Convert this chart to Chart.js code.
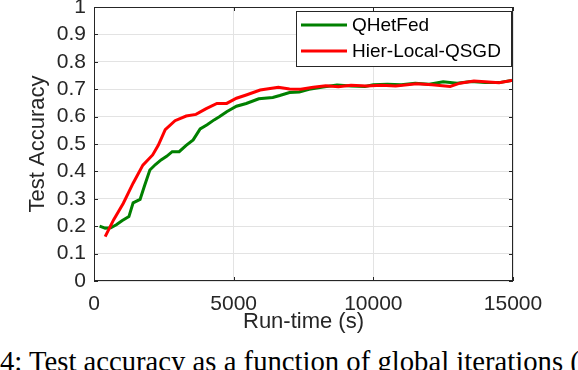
<!DOCTYPE html>
<html>
<head>
<meta charset="utf-8">
<script src="https://cdn.jsdelivr.net/npm/chart.js@4.4.1/dist/chart.umd.min.js"></script>
<style>
  html, body { margin: 0; padding: 0; background: #fff; overflow: hidden; }
  #wrap { position: relative; width: 578px; height: 370px; overflow: hidden; }
  #chartBox { position: absolute; left: 0; top: 0; width: 578px; height: 340px; }
  #caption {
    position: absolute; left: 0; top: 347px;
    font-family: "Liberation Serif", "Times New Roman", serif;
    font-size: 28.7px; line-height: 28px; white-space: nowrap; color: #000;
  }
</style>
</head>
<body>
<div id="wrap">
  <div id="chartBox"><canvas id="accChart"></canvas></div>
  <div id="caption">4: Test accuracy as a function of global iterations (</div>
</div>
<script>
// run-time (s) and test accuracy
const qhetfedTime = [200, 400, 600, 800, 1000, 1250, 1400, 1650, 1800, 2000, 2200, 2400, 2600, 2800, 3050, 3300, 3550, 3800, 4050, 4300, 4500, 4750, 5100, 5450, 5900, 6400, 6650, 7000, 7350, 7700, 8200, 8700, 9200, 9700, 10000, 10500, 11000, 11500, 12000, 12500, 13000, 13500, 14000, 14500, 15000];
const qhetfedAcc = [0.200, 0.193, 0.194, 0.205, 0.220, 0.235, 0.285, 0.298, 0.345, 0.405, 0.425, 0.442, 0.455, 0.472, 0.472, 0.495, 0.515, 0.555, 0.570, 0.588, 0.600, 0.618, 0.638, 0.648, 0.665, 0.670, 0.677, 0.688, 0.690, 0.700, 0.708, 0.715, 0.712, 0.710, 0.716, 0.718, 0.716, 0.722, 0.718, 0.727, 0.722, 0.728, 0.724, 0.724, 0.733];

const hierTime = [400, 700, 1050, 1400, 1750, 2100, 2300, 2550, 2900, 3300, 3650, 4000, 4400, 4750, 5100, 5450, 5950, 6600, 7000, 7400, 7850, 8300, 8750, 9200, 9750, 10300, 10800, 11550, 12100, 12750, 13100, 13600, 14000, 14500, 15000];
const hierAcc = [0.162, 0.223, 0.284, 0.357, 0.423, 0.460, 0.495, 0.552, 0.585, 0.602, 0.608, 0.628, 0.648, 0.648, 0.667, 0.679, 0.697, 0.707, 0.701, 0.700, 0.707, 0.713, 0.709, 0.714, 0.712, 0.714, 0.712, 0.720, 0.716, 0.710, 0.722, 0.730, 0.727, 0.724, 0.733];

const seriesNames = ["QHetFed", "Hier-Local-QSGD"];
const xTicks = [0, 5000, 10000, 15000];
const yTicks = [0, 0.1, 0.2, 0.3, 0.4, 0.5, 0.6, 0.7, 0.8, 0.9, 1];

const textColor = "#262626";
const sansFont = "'Liberation Sans', Arial, sans-serif";

const toPoints = (xs, ys) => xs.map((x, i) => ({ x: x, y: ys[i] }));

// MATLAB style box, inward ticks and legend
const matlabFrame = {
  id: "matlabFrame",
  afterDatasetsDraw(chart) {
    const { ctx, chartArea: a, scales } = chart;
    ctx.save();
    ctx.strokeStyle = textColor;
    ctx.lineWidth = 1;
    ctx.strokeRect(a.left + 0.5, a.top + 0.5, a.right - a.left - 1, a.bottom - a.top - 1);

    const tk = 4;
    ctx.beginPath();
    yTicks.forEach(v => {
      const py = Math.round(scales.y.getPixelForValue(v)) + 0.5;
      ctx.moveTo(a.left, py); ctx.lineTo(a.left + tk, py);
      ctx.moveTo(a.right, py); ctx.lineTo(a.right - tk, py);
    });
    xTicks.forEach(v => {
      const px = Math.round(scales.x.getPixelForValue(v)) + 0.5;
      ctx.moveTo(px, a.bottom); ctx.lineTo(px, a.bottom - tk);
      ctx.moveTo(px, a.top); ctx.lineTo(px, a.top + tk);
    });
    ctx.stroke();

    // legend box
    const lx = 296, ly = 11, lw = 215, lh = 55;
    ctx.fillStyle = "#fff";
    ctx.fillRect(lx, ly, lw, lh);
    ctx.strokeStyle = textColor;
    ctx.strokeRect(lx + 0.5, ly + 0.5, lw, lh);
    ctx.font = "19px " + sansFont;
    ctx.textBaseline = "middle";
    ctx.textAlign = "left";
    chart.data.datasets.forEach((ds, i) => {
      const rowY = 25 + i * 26;
      ctx.strokeStyle = ds.borderColor;
      ctx.lineWidth = 3;
      ctx.beginPath();
      ctx.moveTo(301, rowY); ctx.lineTo(347, rowY);
      ctx.stroke();
      ctx.fillStyle = "#000";
      ctx.fillText(ds.label, 352, rowY + 1);
    });
    ctx.restore();
  }
};

const ctx = document.getElementById("accChart").getContext("2d");
new Chart(ctx, {
  type: "line",
  data: {
    datasets: [{
      label: seriesNames[0],
      data: toPoints(qhetfedTime, qhetfedAcc),
      borderColor: "#008000",
      borderWidth: 3,
      pointRadius: 0,
      tension: 0,
      order: 1
    }, {
      label: seriesNames[1],
      data: toPoints(hierTime, hierAcc),
      borderColor: "#ff0000",
      borderWidth: 3,
      pointRadius: 0,
      tension: 0,
      order: 0
    }]
  },
  options: {
    responsive: true,
    maintainAspectRatio: false,
    animation: false,
    layout: { padding: { left: 0, top: 7, right: 65, bottom: 0 } },
    scales: {
      x: {
        type: "linear",
        min: 0,
        max: 15000,
        afterBuildTicks: s => { s.ticks = xTicks.map(v => ({ value: v })); },
        afterFit: s => { s.height = 59; s.paddingLeft = 0; s.paddingRight = 0; },
        ticks: {
          color: textColor,
          font: { family: sansFont, size: 21 },
          padding: 11,
          maxRotation: 0,
          autoSkip: false,
          callback: v => String(v)
        },
        grid: { color: "#e3e3e3", drawTicks: false },
        border: { display: false },
        title: {
          display: true,
          text: "Run-time (s)",
          color: textColor,
          font: { family: sansFont, size: 22 },
          padding: { top: 0, bottom: 5 }
        }
      },
      y: {
        min: 0,
        max: 1,
        afterBuildTicks: s => { s.ticks = yTicks.map(v => ({ value: v })); },
        afterFit: s => { s.width = 94; s.paddingTop = 0; s.paddingBottom = 0; },
        ticks: {
          color: textColor,
          font: { family: sansFont, size: 21 },
          padding: 8,
          autoSkip: false,
          callback: v => String(v)
        },
        grid: { color: "#e3e3e3", drawTicks: false },
        border: { display: false },
        title: {
          display: true,
          text: "Test Accuracy",
          color: textColor,
          font: { family: sansFont, size: 22 },
          padding: { top: 25, bottom: 0 }
        }
      }
    },
    plugins: {
      legend: { display: false },
      tooltip: { enabled: false }
    }
  },
  plugins: [matlabFrame]
});
</script>
</body>
</html>
